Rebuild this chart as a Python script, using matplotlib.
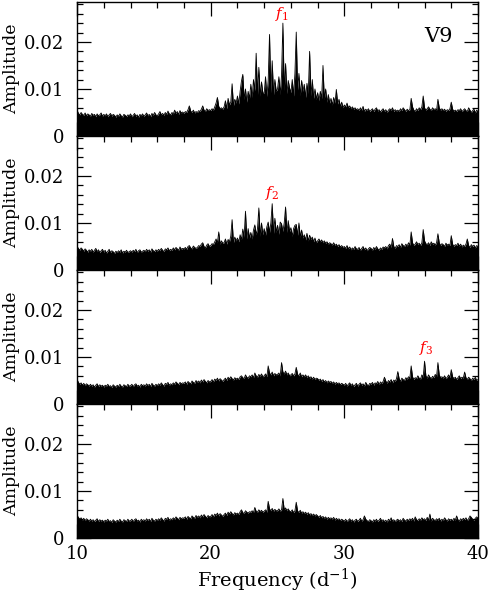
import numpy as np
import matplotlib
matplotlib.use('Agg')
import matplotlib.pyplot as plt
from matplotlib.ticker import MultipleLocator

plt.rcParams['font.family'] = 'DejaVu Serif'
plt.rcParams['mathtext.fontset'] = 'dejavuserif'

# frecuencias (d^-1), paso 0.1
freq = np.round(np.arange(0, 301) * 0.1 + 10, 1)

# amplitudes, en unidades de 1e-4 (una fila por cada d^-1)
amp1 = [
    55, 48, 45, 50, 46, 44, 49, 43, 47, 45,
    42, 48, 44, 46, 41, 47, 43, 45, 49, 42,
    46, 43, 47, 41, 45, 48, 42, 46, 44, 40,
    45, 42, 47, 43, 40, 46, 44, 41, 45, 43,
    47, 41, 44, 48, 42, 45, 40, 46, 43, 47,
    42, 45, 49, 43, 46, 41, 48, 44, 50, 45,
    43, 47, 52, 45, 48, 44, 50, 46, 53, 47,
    45, 50, 47, 55, 48, 52, 46, 54, 49, 51,
    48, 52, 50, 56, 64, 53, 50, 55, 49, 52,
    50, 54, 52, 57, 64, 55, 52, 58, 54, 56,
    54, 58, 55, 62, 70, 82, 63, 58, 60, 57,
    62, 75, 58, 80, 66, 72, 111, 64, 78, 70,
    85, 68, 95, 117, 131, 78, 100, 72, 95, 80,
    110, 82, 120, 96, 176, 88, 146, 85, 115, 92,
    90, 126, 84, 118, 216, 92, 160, 88, 120, 95,
    100, 126, 88, 130, 240, 96, 154, 90, 118, 102,
    92, 120, 85, 133, 221, 98, 133, 86, 118, 95,
    110, 82, 112, 90, 180, 85, 120, 80, 100, 78,
    92, 75, 95, 80, 150, 78, 100, 72, 88, 70,
    80, 66, 82, 70, 99, 68, 78, 62, 72, 60,
    66, 62, 70, 60, 64, 58, 62, 57, 60, 56,
    58, 54, 60, 55, 63, 52, 57, 54, 58, 52,
    55, 58, 52, 57, 60, 53, 56, 51, 55, 58,
    52, 56, 50, 55, 58, 54, 60, 52, 56, 53,
    55, 52, 58, 54, 60, 56, 52, 57, 54, 56,
    80, 62, 55, 52, 58, 54, 60, 56, 62, 85,
    60, 55, 58, 62, 57, 54, 60, 56, 58, 55,
    78, 60, 55, 58, 54, 57, 52, 56, 54, 58,
    72, 57, 53, 55, 52, 56, 54, 58, 52, 55,
    58, 54, 52, 60, 55, 50, 54, 57, 49, 55,
    52,
]

amp2 = [
    50, 46, 42, 47, 44, 40, 45, 42, 38, 43,
    40, 44, 38, 42, 46, 39, 43, 37, 41, 44,
    38, 42, 36, 40, 44, 37, 41, 39, 35, 40,
    37, 41, 38, 43, 36, 40, 38, 42, 37, 39,
    41, 38, 42, 39, 44, 37, 41, 43, 38, 40,
    42, 39, 44, 40, 43, 38, 45, 41, 39, 43,
    40, 44, 41, 46, 42, 39, 45, 43, 47, 41,
    44, 42, 47, 43, 48, 45, 42, 49, 44, 46,
    45, 48, 44, 50, 52, 47, 45, 51, 48, 46,
    48, 52, 50, 55, 58, 50, 47, 53, 56, 50,
    52, 56, 54, 60, 66, 58, 81, 55, 62, 57,
    58, 66, 55, 65, 60, 72, 107, 58, 70, 62,
    68, 60, 75, 65, 87, 70, 125, 66, 88, 68,
    80, 66, 85, 96, 75, 88, 132, 72, 100, 75,
    88, 74, 92, 102, 80, 100, 141, 78, 110, 80,
    95, 76, 102, 98, 82, 100, 134, 80, 105, 82,
    90, 72, 88, 95, 97, 74, 100, 70, 85, 68,
    75, 64, 78, 62, 74, 65, 70, 60, 68, 58,
    62, 66, 60, 64, 58, 62, 57, 60, 55, 58,
    56, 53, 58, 52, 55, 50, 54, 49, 52, 48,
    50, 46, 52, 45, 49, 43, 47, 44, 50, 45,
    44, 48, 42, 46, 50, 43, 47, 41, 45, 48,
    46, 42, 48, 44, 50, 45, 42, 47, 44, 49,
    47, 50, 45, 52, 55, 48, 67, 50, 46, 52,
    50, 54, 48, 56, 52, 50, 55, 51, 58, 53,
    81, 58, 52, 55, 60, 54, 57, 52, 58, 86,
    62, 56, 54, 58, 52, 60, 55, 57, 53, 58,
    77, 58, 52, 56, 54, 50, 57, 53, 55, 52,
    73, 55, 50, 54, 52, 57, 51, 55, 49, 53,
    50, 55, 66, 52, 48, 54, 50, 53, 47, 52,
    50,
]

amp3 = [
    52, 46, 42, 45, 40, 44, 39, 43, 41, 38,
    42, 38, 41, 36, 40, 43, 37, 41, 38, 40,
    36, 40, 38, 42, 37, 39, 35, 41, 38, 36,
    40, 37, 42, 38, 36, 41, 39, 37, 42, 38,
    39, 42, 37, 41, 43, 38, 40, 36, 42, 39,
    41, 38, 43, 39, 42, 37, 44, 40, 38, 42,
    39, 43, 40, 45, 41, 38, 44, 42, 46, 40,
    43, 41, 45, 42, 47, 44, 41, 46, 43, 45,
    44, 47, 42, 48, 45, 43, 49, 46, 44, 50,
    46, 49, 45, 51, 47, 52, 48, 45, 50, 47,
    48, 52, 47, 53, 50, 55, 49, 54, 51, 48,
    52, 55, 50, 57, 53, 58, 54, 51, 56, 53,
    55, 52, 58, 60, 56, 54, 62, 57, 55, 60,
    58, 62, 56, 66, 60, 57, 63, 59, 64, 58,
    60, 64, 58, 81, 66, 62, 68, 60, 65, 62,
    63, 66, 60, 88, 68, 64, 70, 62, 66, 60,
    62, 65, 60, 64, 78, 63, 60, 66, 58, 62,
    58, 62, 56, 60, 55, 58, 53, 57, 52, 55,
    54, 50, 53, 48, 52, 47, 50, 45, 49, 46,
    48, 44, 47, 42, 46, 43, 45, 41, 44, 42,
    40, 44, 38, 42, 45, 39, 43, 37, 41, 44,
    38, 42, 45, 40, 43, 38, 46, 41, 39, 44,
    42, 46, 40, 45, 43, 48, 41, 47, 44, 48,
    57, 49, 44, 50, 47, 52, 45, 51, 48, 54,
    69, 54, 48, 55, 52, 50, 56, 53, 58, 55,
    81, 58, 52, 56, 54, 60, 55, 53, 62, 57,
    91, 60, 55, 62, 57, 54, 59, 56, 63, 58,
    88, 62, 56, 58, 55, 60, 54, 57, 62, 56,
    73, 58, 54, 57, 52, 56, 60, 54, 57, 55,
    68, 56, 52, 57, 54, 50, 55, 52, 57, 50,
    52,
]

amp4 = [
    48, 44, 40, 43, 38, 42, 37, 41, 39, 36,
    40, 36, 39, 35, 38, 41, 35, 39, 36, 38,
    34, 38, 36, 40, 35, 37, 33, 39, 36, 34,
    38, 35, 40, 36, 34, 39, 37, 35, 40, 36,
    37, 40, 35, 39, 41, 36, 38, 34, 40, 37,
    39, 36, 41, 37, 40, 35, 42, 38, 36, 40,
    37, 41, 38, 43, 39, 36, 42, 40, 44, 38,
    41, 39, 43, 40, 45, 42, 39, 44, 41, 43,
    42, 45, 40, 46, 43, 41, 47, 44, 42, 48,
    44, 47, 43, 49, 45, 50, 46, 43, 48, 45,
    46, 50, 45, 51, 48, 53, 47, 52, 49, 46,
    50, 53, 48, 55, 51, 56, 52, 49, 54, 51,
    53, 50, 56, 60, 54, 52, 58, 55, 53, 56,
    55, 58, 54, 65, 57, 55, 60, 56, 59, 55,
    57, 60, 55, 78, 62, 58, 63, 57, 61, 58,
    58, 62, 57, 60, 84, 60, 64, 58, 62, 57,
    56, 60, 54, 58, 76, 57, 55, 59, 53, 56,
    52, 55, 50, 54, 49, 52, 48, 51, 47, 50,
    47, 44, 48, 43, 46, 42, 45, 40, 44, 41,
    43, 40, 44, 38, 42, 39, 41, 37, 40, 38,
    36, 40, 35, 38, 41, 36, 39, 34, 38, 40,
    35, 38, 42, 36, 39, 47, 40, 37, 35, 39,
    37, 34, 39, 36, 40, 35, 38, 42, 36, 39,
    35, 38, 34, 40, 37, 43, 36, 39, 35, 38,
    40, 36, 39, 35, 42, 38, 36, 40, 37, 41,
    38, 42, 36, 45, 39, 37, 41, 38, 43, 39,
    41, 37, 44, 38, 51, 36, 42, 39, 37, 41,
    38, 42, 36, 40, 37, 43, 39, 36, 41, 38,
    40, 37, 42, 38, 47, 39, 36, 41, 38, 42,
    39, 43, 37, 41, 47, 44, 40, 37, 42, 45,
    42,
]

amplitudes = [amp1, amp2, amp3, amp4]

# etiquetas de las frecuencias identificadas: (texto, frecuencia, amplitud)
etiquetas = [(r'$f_1$', 25.33, 0.0259), (r'$f_2$', 24.58, 0.0164),
             (r'$f_3$', 36.1, 0.0120), None]

fig, axes = plt.subplots(4, 1, sharex=True, figsize=(4.91, 5.99), dpi=100)
fig.subplots_adjust(left=0.157, right=0.9735, top=0.9967, bottom=0.1018, hspace=0)

for ax, amp, etq in zip(axes, amplitudes, etiquetas):
    a = np.array(amp) * 1e-4
    ax.fill_between(freq, 0, a, color='black', lw=0)
    ax.plot(freq, a, color='black', lw=0.6)
    ax.set_xlim(10, 40)
    ax.set_ylim(0, 0.0285)
    ax.xaxis.set_major_locator(MultipleLocator(10))
    ax.xaxis.set_minor_locator(MultipleLocator(2))
    ax.yaxis.set_major_locator(MultipleLocator(0.01))
    ax.yaxis.set_minor_locator(MultipleLocator(0.002))
    ax.set_yticks([0, 0.01, 0.02])
    ax.set_yticklabels(['0', '0.01', '0.02'])
    ax.tick_params(which='both', direction='in', top=True, right=True,
                   width=0.9, labelsize=13)
    ax.tick_params(which='major', length=10, pad=9)
    ax.tick_params(axis='x', which='major', pad=5)
    ax.tick_params(which='minor', length=4.5)
    for s in ax.spines.values():
        s.set_linewidth(1.0)
    ax.set_ylabel('Amplitude', fontsize=12.5)
    ax.yaxis.set_label_coords(-0.143, 0.5)
    if etq is not None:
        ax.text(etq[1], etq[2], etq[0], color='red', fontsize=11,
                ha='center', va='center')

axes[0].text(37.08, 0.0212, 'V9', fontsize=15, ha='center', va='center')
axes[-1].set_xlabel('Frequency (d$^{-1}$)', fontsize=14, labelpad=3)

fig.savefig('out.png', dpi=100)
